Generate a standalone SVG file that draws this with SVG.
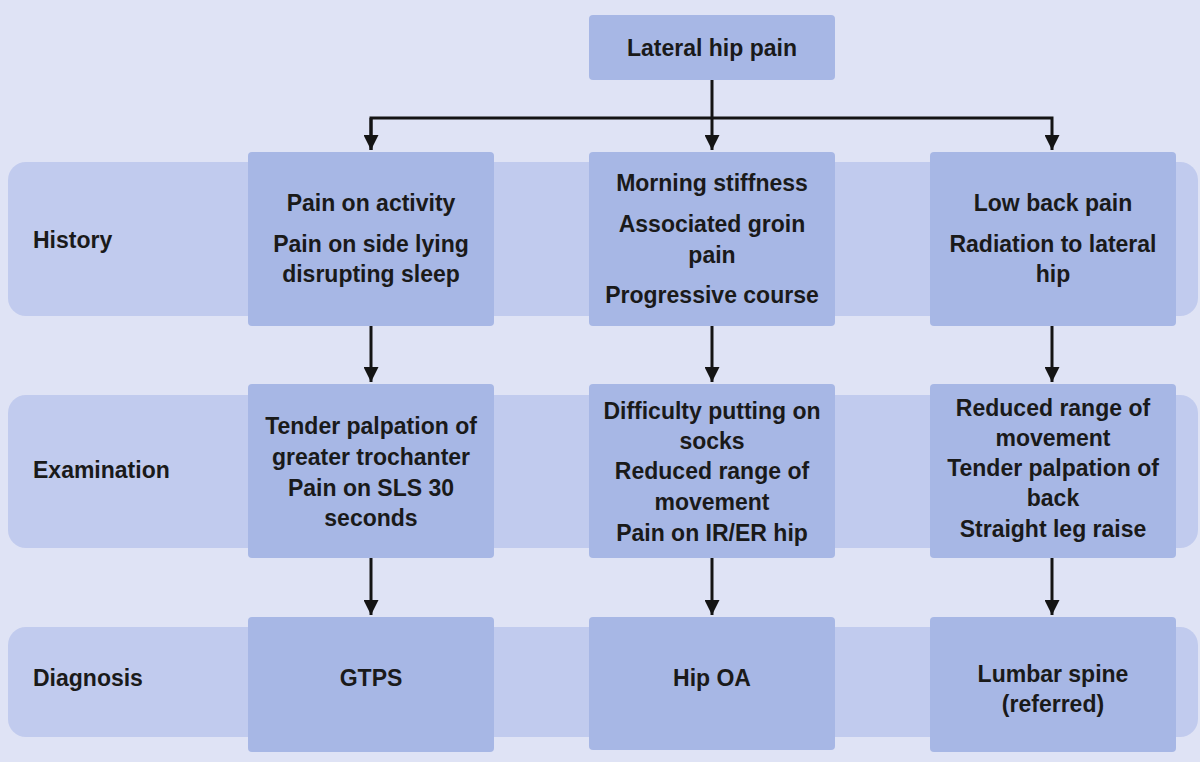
<svg xmlns="http://www.w3.org/2000/svg" width="1200" height="762" viewBox="0 0 1200 762">
<defs>
<marker id="ah" viewBox="0 0 10 10" refX="10" refY="5" markerWidth="5" markerHeight="5" markerUnits="strokeWidth" orient="auto">
<path d="M0,0 L10,5 L0,10 Z" fill="#141414"/>
</marker>
<style>
.band{fill:#c1cbee}
.node{fill:#a7b7e5}
.t{font-family:"Liberation Sans Narrow","Liberation Sans",Arial,sans-serif;font-weight:bold;font-size:23px;fill:#1a1a1a;text-anchor:middle}
.lbl{font-family:"Liberation Sans Narrow","Liberation Sans",Arial,sans-serif;font-weight:bold;font-size:23px;fill:#1a1a1a}
.c{fill:none;stroke:#141414;stroke-width:3}
</style>
</defs>
<rect x="0" y="0" width="1200" height="762" fill="#dfe3f5"/>
<g id="bands">
<rect class="band" x="8" y="162" width="1190" height="154" rx="18"/>
<rect class="band" x="8" y="395" width="1190" height="153" rx="18"/>
<rect class="band" x="8" y="627" width="1190" height="110" rx="18"/>
</g>
<g id="row-labels">
<text class="lbl" x="33" y="248">History</text>
<text class="lbl" x="33" y="478">Examination</text>
<text class="lbl" x="33" y="686">Diagnosis</text>
</g>
<g id="connectors">
<path class="c" d="M712,80 V118"/>
<path class="c" d="M371,150 V118 H1052 V150" marker-end="url(#ah)"/>
<path class="c" d="M371,118 V150" marker-end="url(#ah)"/>
<path class="c" d="M712,118 V150" marker-end="url(#ah)"/>
<path class="c" d="M371,326 V382" marker-end="url(#ah)"/>
<path class="c" d="M712,326 V382" marker-end="url(#ah)"/>
<path class="c" d="M1052,326 V382" marker-end="url(#ah)"/>
<path class="c" d="M371,558 V615" marker-end="url(#ah)"/>
<path class="c" d="M712,558 V615" marker-end="url(#ah)"/>
<path class="c" d="M1052,558 V615" marker-end="url(#ah)"/>
</g>
<g id="root">
<rect class="node" x="589" y="15" width="246" height="65" rx="4"/>
<text class="t" x="712" y="56">Lateral hip pain</text>
</g>
<g id="hist-gtps">
<rect class="node" x="248" y="152" width="246" height="174" rx="4"/>
<text class="t" x="371" y="211">Pain on activity</text>
<text class="t" x="371" y="252">Pain on side lying</text>
<text class="t" x="371" y="282">disrupting sleep</text>
</g>
<g id="hist-oa">
<rect class="node" x="589" y="152" width="246" height="174" rx="4"/>
<text class="t" x="712" y="191">Morning stiffness</text>
<text class="t" x="712" y="232">Associated groin</text>
<text class="t" x="712" y="263">pain</text>
<text class="t" x="712" y="303">Progressive course</text>
</g>
<g id="hist-lumbar">
<rect class="node" x="930" y="152" width="246" height="174" rx="4"/>
<text class="t" x="1053" y="211">Low back pain</text>
<text class="t" x="1053" y="252">Radiation to lateral</text>
<text class="t" x="1053" y="282">hip</text>
</g>
<g id="exam-gtps">
<rect class="node" x="248" y="384" width="246" height="174" rx="4"/>
<text class="t" x="371" y="434">Tender palpation of</text>
<text class="t" x="371" y="465">greater trochanter</text>
<text class="t" x="371" y="496">Pain on SLS 30</text>
<text class="t" x="371" y="526">seconds</text>
</g>
<g id="exam-oa">
<rect class="node" x="589" y="384" width="246" height="174" rx="4"/>
<text class="t" x="712" y="419">Difficulty putting on</text>
<text class="t" x="712" y="449">socks</text>
<text class="t" x="712" y="479">Reduced range of</text>
<text class="t" x="712" y="510">movement</text>
<text class="t" x="712" y="541">Pain on IR/ER hip</text>
</g>
<g id="exam-lumbar">
<rect class="node" x="930" y="384" width="246" height="174" rx="4"/>
<text class="t" x="1053" y="416">Reduced range of</text>
<text class="t" x="1053" y="446">movement</text>
<text class="t" x="1053" y="476">Tender palpation of</text>
<text class="t" x="1053" y="506">back</text>
<text class="t" x="1053" y="537">Straight leg raise</text>
</g>
<g id="dx-gtps">
<rect class="node" x="248" y="617" width="246" height="135" rx="4"/>
<text class="t" x="371" y="686">GTPS</text>
</g>
<g id="dx-oa">
<rect class="node" x="589" y="617" width="246" height="133" rx="4"/>
<text class="t" x="712" y="686">Hip OA</text>
</g>
<g id="dx-lumbar">
<rect class="node" x="930" y="617" width="246" height="135" rx="4"/>
<text class="t" x="1053" y="682">Lumbar spine</text>
<text class="t" x="1053" y="712">(referred)</text>
</g>
</svg>
